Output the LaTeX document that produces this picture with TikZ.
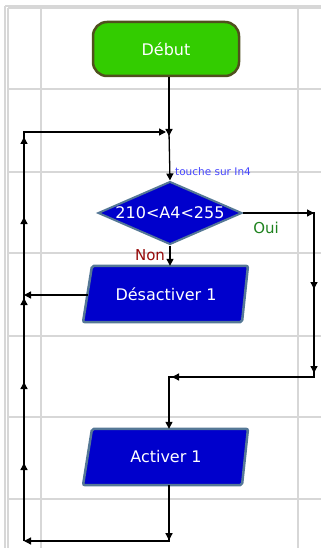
\documentclass[tikz,border=0pt]{standalone}
\usepackage{fontspec}
\setmainfont{DejaVu Sans}
\usetikzlibrary{shapes.geometric,arrows.meta,decorations.markings}
\definecolor{gridgray}{RGB}{215,215,215}
\definecolor{startgreen}{RGB}{51,204,0}
\definecolor{startborder}{RGB}{80,80,30}
\definecolor{boxblue}{RGB}{0,0,204}
\definecolor{boxborder}{RGB}{85,120,150}
\definecolor{notecol}{RGB}{70,70,255}
\definecolor{ouicol}{RGB}{30,130,30}
\definecolor{noncol}{RGB}{150,10,10}
\tikzset{
  tip/.tip={Triangle[length=7pt,width=7pt]},
  flow/.style={draw=black,line width=1.3pt},
  lbl/.style={text=white,font=\fontsize{16}{19}\selectfont},
  iobox/.style={draw=none,minimum width=150pt,minimum height=56pt,inner sep=0pt},
  gridline/.style={draw=gridgray,line width=1.3pt},
  marksat/.style={postaction={decorate,decoration={markings,#1}}}
}
\begin{document}
\begin{tikzpicture}[x=1pt,y=-1pt]
\useasboundingbox (0,0) rectangle (321,548);
% grid
\draw[gridline] (5,6) -- (321,6);
\draw[gridline] (5,6) -- (5,548);
\draw[gridline] (8,8) -- (321,8);
\draw[gridline] (8,8) -- (8,548);
\foreach \yy in {89,172,253,336,417,499} \draw[gridline] (8,\yy) -- (321,\yy);
\foreach \xx in {41,298} \draw[gridline] (\xx,8) -- (\xx,548);
% nodes
\node[draw=startborder,line width=2.5pt,fill=startgreen,rounded corners=14pt,minimum width=146pt,minimum height=54pt,inner sep=0pt,lbl] (debut) at (166,49) {Début};
\node[diamond,draw=boxborder,line width=2pt,fill=boxblue,minimum width=144pt,minimum height=63pt,inner sep=0pt] (cond) at (170,213) {};
\node[lbl] at (cond) {210<A4<255};
\node[iobox,lbl] (desact) at (166,294) {Désactiver 1};
\node[iobox,lbl] (act) at (166,457) {Activer 1};
\foreach \n in {desact,act}{
  \draw[draw=boxborder,line width=2.5pt,fill=boxblue,rounded corners=2pt]
    ([xshift=-74pt]\n.north) -- ([xshift=82pt]\n.north) -- ([xshift=76pt]\n.south) -- ([xshift=-83pt]\n.south) -- cycle;
}
\node[lbl] at (desact) {Désactiver 1};
\node[lbl] at (act) {Activer 1};
% labels
\node[text=notecol,font=\fontsize{10.5}{12}\selectfont,anchor=west,inner sep=0pt] (note) at (175,172) {touche sur In4};
\node[text=ouicol,font=\fontsize{15}{18}\selectfont,inner sep=0pt] (oui) at (266,228) {Oui};
\node[text=noncol,font=\fontsize{15}{18}\selectfont,inner sep=0pt] (non) at (150,255) {Non};
% coordinates
\coordinate (j1) at (169,132);
\coordinate (tl) at (24,132);
\coordinate (bl) at (24,541);
\coordinate (br) at (169,541);
\coordinate (dl) at (24,295);
\coordinate (r1) at (314,213);
\coordinate (r2) at (314,377);
\coordinate (m1) at (169,377);
% connectors
\draw[flow,-{tip}] (debut.south -| j1) -- ([yshift=-4pt]j1);
\draw[flow,-{tip}] (j1) -- (cond.north);
\draw[flow,-{tip},marksat={mark=at position 78pt with {\arrow{tip}},mark=at position 159pt with {\arrow{tip}},mark=at position 243pt with {\arrow{tip}},mark=at position 324pt with {\arrow{tip}},mark=at position 404pt with {\arrow{tip}}}]
  (bl) -- (tl) -- ([xshift=-3pt]j1);
\draw[flow,-{tip},marksat={mark=at position 71pt with {\arrow{tip}},mark=at position 147pt with {\arrow{tip}},mark=at position 231pt with {\arrow{tip}},mark=at position 377pt with {\arrow{tip}}}]
  (cond.east) -- (r1) -- (r2) -- (m1) -- (act.north -| m1);
\draw[flow,-{tip}] (cond.south) -- (desact.north -| cond.south);
\draw[flow,-{tip}] ([xshift=-78pt]desact.center |- dl) -- (dl);
\draw[flow,-{tip},marksat={mark=at position 55pt with {\arrow{tip}}}] (act.south -| br) -- (br) -- (bl);
\end{tikzpicture}
\end{document}
